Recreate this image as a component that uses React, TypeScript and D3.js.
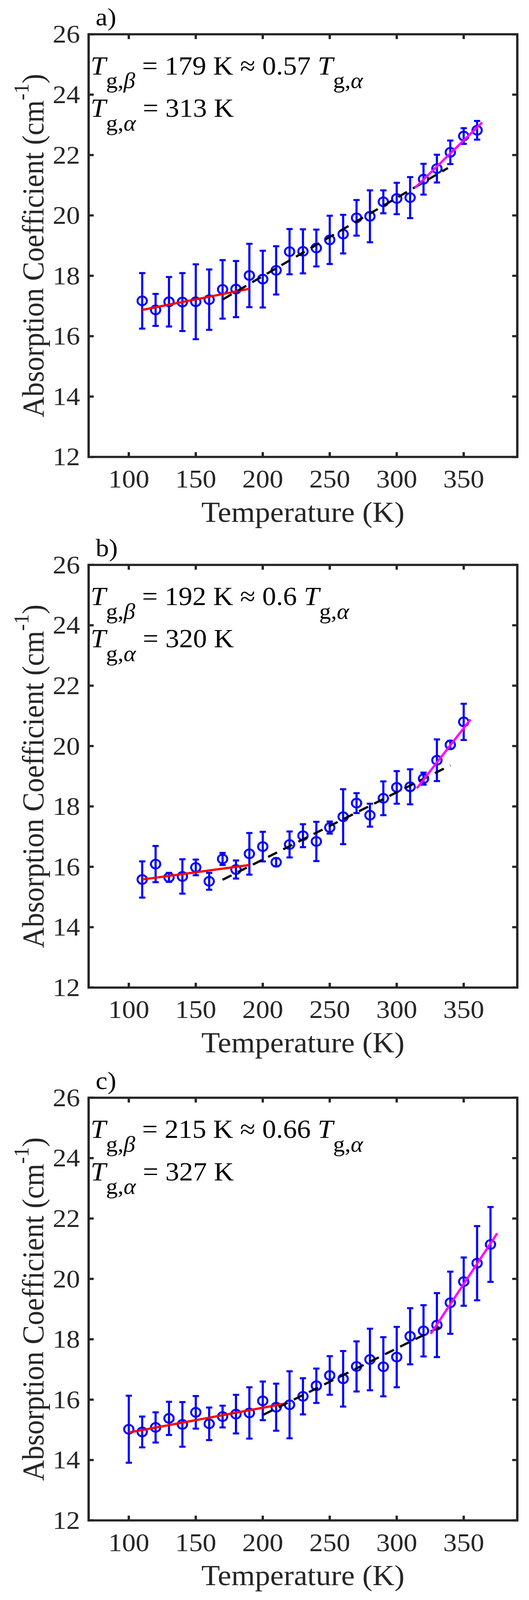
import { useEffect, useState } from 'react';
import * as d3 from 'd3';

const WIDTH = 1355;
const HEIGHT = 4342;
const FONT = '"Liberation Serif", "Times New Roman", Times, serif';

// axes (shared by the three panels)
const xDomain: [number, number] = [70, 390];
const yDomain: [number, number] = [12, 26];
const xTicks = [100, 150, 200, 250, 300, 350];
const yTicks = [12, 14, 16, 18, 20, 22, 24, 26];

// panel a
const tempA = [110, 120, 130, 140, 150, 160, 170, 180, 190, 200, 210, 220, 230, 240, 250, 260, 270, 280, 290, 300, 310, 320, 330, 340, 350, 360];
const absA = [17.17, 16.87, 17.14, 17.13, 17.14, 17.21, 17.55, 17.56, 18.01, 17.89, 18.18, 18.8, 18.81, 18.92, 19.19, 19.38, 19.92, 19.97, 20.45, 20.56, 20.59, 21.2, 21.55, 22.09, 22.63, 22.82];
const errA = [0.92, 0.53, 0.82, 0.96, 1.24, 1.0, 0.97, 0.93, 1.05, 0.94, 0.8, 0.75, 0.73, 0.61, 0.8, 0.64, 0.59, 0.86, 0.38, 0.52, 0.68, 0.51, 0.46, 0.39, 0.26, 0.31];
const lowFitA: [number, number][] = [[110, 16.87], [190, 17.57]];
const midFitA: [number, number][] = [[170.3, 17.22], [338.2, 21.57]];
const highFitA: [number, number][] = [[313.5, 20.91], [363.8, 23.08]];

// panel b
const tempB = [110, 120, 130, 140, 150, 160, 170, 180, 190, 200, 210, 220, 230, 240, 250, 260, 270, 280, 290, 300, 310, 320, 330, 340, 350];
const absB = [15.58, 16.09, 15.65, 15.68, 15.98, 15.52, 16.26, 15.91, 16.43, 16.67, 16.15, 16.74, 17.03, 16.84, 17.3, 17.66, 18.11, 17.71, 18.27, 18.63, 18.65, 18.92, 19.53, 20.04, 20.8];
const errB = [0.6, 0.6, 0.15, 0.57, 0.26, 0.28, 0.2, 0.3, 0.69, 0.49, 0.13, 0.43, 0.38, 0.65, 0.2, 0.91, 0.33, 0.38, 0.56, 0.54, 0.58, 0.2, 0.69, 0.13, 0.6];
const lowFitB: [number, number][] = [[110, 15.58], [190, 16.06]];
const midFitB: [number, number][] = [[170, 15.57], [340, 19.36]];
const highFitB: [number, number][] = [[315, 18.6], [355, 20.88]];

// panel c
const tempC = [100, 110, 120, 130, 140, 150, 160, 170, 180, 190, 200, 210, 220, 230, 240, 250, 260, 270, 280, 290, 300, 310, 320, 330, 340, 350, 360, 370];
const absC = [15.02, 14.93, 15.08, 15.38, 15.18, 15.58, 15.2, 15.44, 15.52, 15.56, 15.96, 15.75, 15.83, 16.11, 16.46, 16.8, 16.69, 17.1, 17.33, 17.09, 17.41, 18.1, 18.28, 18.47, 19.21, 19.91, 20.52, 21.14];
const errC = [1.11, 0.51, 0.5, 0.55, 0.74, 0.54, 0.54, 0.36, 0.64, 0.85, 0.64, 0.78, 1.11, 0.6, 0.57, 0.64, 0.92, 0.83, 1.02, 0.98, 1.0, 0.93, 0.85, 1.06, 1.03, 0.8, 1.23, 1.24];
const lowFitC: [number, number][] = [[100, 14.91], [216.8, 15.87]];
const midFitC: [number, number][] = [[200.5, 15.5], [335, 18.47]];
const highFitC: [number, number][] = [[325.4, 18.18], [375, 21.51]];

const panelLabels = ['a)', 'b)', 'c)'];
const tgBeta = ['179', '192', '215'];
const tgRatio = ['0.57', '0.6', '0.66'];
const tgAlpha = ['313', '320', '327'];

interface PanelData {
  label: string;
  temps: number[];
  values: number[];
  errors: number[];
  lowFit: [number, number][];
  midFit: [number, number][];
  highFit: [number, number][];
  beta: string;
  ratio: string;
  alpha: string;
}

const panels: PanelData[] = [
  { label: panelLabels[0], temps: tempA, values: absA, errors: errA, lowFit: lowFitA, midFit: midFitA, highFit: highFitA, beta: tgBeta[0], ratio: tgRatio[0], alpha: tgAlpha[0] },
  { label: panelLabels[1], temps: tempB, values: absB, errors: errB, lowFit: lowFitB, midFit: midFitB, highFit: highFitB, beta: tgBeta[1], ratio: tgRatio[1], alpha: tgAlpha[1] },
  { label: panelLabels[2], temps: tempC, values: absC, errors: errC, lowFit: lowFitC, midFit: midFitC, highFit: highFitC, beta: tgBeta[2], ratio: tgRatio[2], alpha: tgAlpha[2] },
];

const panelTops = [93, 1533, 2979];
const AX_LEFT = 227;
const AX_RIGHT = 1325;
const AX_HEIGHT = 1147;

const AXIS_COLOR = '#262626';
const TICK_LEN = 13;
const TICK_FONT = 70;
const LABEL_FONT = 78;
const NOTE_FONT = 71;
const SUB_FONT = 60;

function Panel({ top, data }: { top: number; data: PanelData }) {
  const bottom = top + AX_HEIGHT;
  const x = d3.scaleLinear().domain(xDomain).range([AX_LEFT, AX_RIGHT]);
  const y = d3.scaleLinear().domain(yDomain).range([bottom, top]);
  const fitLine = d3.line<[number, number]>().x((d) => x(d[0])).y((d) => y(d[1]));
  const capHalf = 8;

  return (
    <g>
      {/* ticks, inward on all four sides */}
      {xTicks.map((t) => (
        <g key={`x${t}`}>
          <line x1={x(t)} x2={x(t)} y1={bottom} y2={bottom - TICK_LEN} stroke={AXIS_COLOR} strokeWidth={6} />
          <line x1={x(t)} x2={x(t)} y1={top} y2={top + TICK_LEN} stroke={AXIS_COLOR} strokeWidth={6} />
          <text x={x(t)} y={bottom + 83} textAnchor="middle" fontSize={TICK_FONT} fill={AXIS_COLOR}>{t}</text>
        </g>
      ))}
      {yTicks.map((t) => (
        <g key={`y${t}`}>
          <line x1={AX_LEFT} x2={AX_LEFT + TICK_LEN} y1={y(t)} y2={y(t)} stroke={AXIS_COLOR} strokeWidth={6} />
          <line x1={AX_RIGHT} x2={AX_RIGHT - TICK_LEN} y1={y(t)} y2={y(t)} stroke={AXIS_COLOR} strokeWidth={6} />
          <text x={AX_LEFT - 22} y={y(t) + 23} textAnchor="end" fontSize={TICK_FONT} fill={AXIS_COLOR}>{t}</text>
        </g>
      ))}

      {/* error bars + open circles */}
      {data.temps.map((t, i) => {
        const cx = x(t);
        const hi = y(data.values[i] + data.errors[i]);
        const lo = y(data.values[i] - data.errors[i]);
        return (
          <g key={`p${t}`} stroke="#0000FF" strokeWidth={5.5} fill="none">
            <line x1={cx} x2={cx} y1={hi} y2={lo} />
            <line x1={cx - capHalf} x2={cx + capHalf} y1={hi} y2={hi} />
            <line x1={cx - capHalf} x2={cx + capHalf} y1={lo} y2={lo} />
            <circle cx={cx} cy={y(data.values[i])} r={12} strokeWidth={5} />
          </g>
        );
      })}

      {/* linear fits */}
      <path d={fitLine(data.lowFit) ?? ''} fill="none" stroke="#FF0000" strokeWidth={6} />
      <path d={fitLine(data.midFit) ?? ''} fill="none" stroke="#000000" strokeWidth={6} strokeDasharray="26 18" />
      <path d={fitLine(data.highFit) ?? ''} fill="none" stroke="#FF00FF" strokeWidth={6} />

      {/* box */}
      <rect x={AX_LEFT} y={top} width={AX_RIGHT - AX_LEFT} height={AX_HEIGHT} fill="none" stroke={AXIS_COLOR} strokeWidth={6} />

      {/* panel label */}
      <text x={AX_LEFT + 18} y={top - 24} fontSize={68} fill="#000">{data.label}</text>

      {/* annotation */}
      <text x={AX_LEFT + 5} y={top + 109} fontSize={NOTE_FONT} fill="#000">
        <tspan fontStyle="italic">T</tspan>
        <tspan fontSize={SUB_FONT} dy={37}>g,<tspan fontStyle="italic">β</tspan></tspan>
        <tspan dy={-37}>{` = ${data.beta} K ≈ ${data.ratio} `}</tspan>
        <tspan fontStyle="italic">T</tspan>
        <tspan fontSize={SUB_FONT} dy={37}>g,<tspan fontStyle="italic">α</tspan></tspan>
      </text>
      <text x={AX_LEFT + 5} y={top + 224} fontSize={NOTE_FONT} fill="#000">
        <tspan fontStyle="italic">T</tspan>
        <tspan fontSize={SUB_FONT} dy={37}>g,<tspan fontStyle="italic">α</tspan></tspan>
        <tspan dy={-37}>{` = ${data.alpha} K`}</tspan>
      </text>

      {/* axis labels */}
      <text x={(AX_LEFT + AX_RIGHT) / 2} y={bottom + 176} textAnchor="middle" fontSize={LABEL_FONT} fill={AXIS_COLOR}>
        Temperature (K)
      </text>
      <text transform={`translate(111, ${(top + bottom) / 2}) rotate(-90)`} textAnchor="middle" fontSize={LABEL_FONT} fill={AXIS_COLOR}>
        Absorption Coefficient (cm<tspan fontSize={55} dy={-38}>-1</tspan><tspan dy={38}>)</tspan>
      </text>
    </g>
  );
}

export default function App() {
  // the browser caps the viewport height, so fit the whole figure into what is visible
  const [viewH, setViewH] = useState(() =>
    typeof window === 'undefined' ? HEIGHT : Math.min(window.innerHeight || HEIGHT, HEIGHT)
  );
  useEffect(() => {
    document.body.style.margin = '0';
    document.body.style.overflow = 'hidden';
    setViewH(Math.min(window.innerHeight || HEIGHT, HEIGHT));
  }, []);

  return (
    <div style={{ width: WIDTH, height: viewH, background: '#fff', overflow: 'hidden' }}>
      <style>{'body{margin:0;background:#fff}'}</style>
      <svg
        width={WIDTH}
        height={viewH}
        viewBox={`0 0 ${WIDTH} ${HEIGHT}`}
        preserveAspectRatio="none"
        style={{ display: 'block', fontFamily: FONT }}
      >
        <rect width={WIDTH} height={HEIGHT} fill="#fff" />
        {panels.map((p, i) => (
          <Panel key={p.label} top={panelTops[i]} data={p} />
        ))}
      </svg>
    </div>
  );
}
